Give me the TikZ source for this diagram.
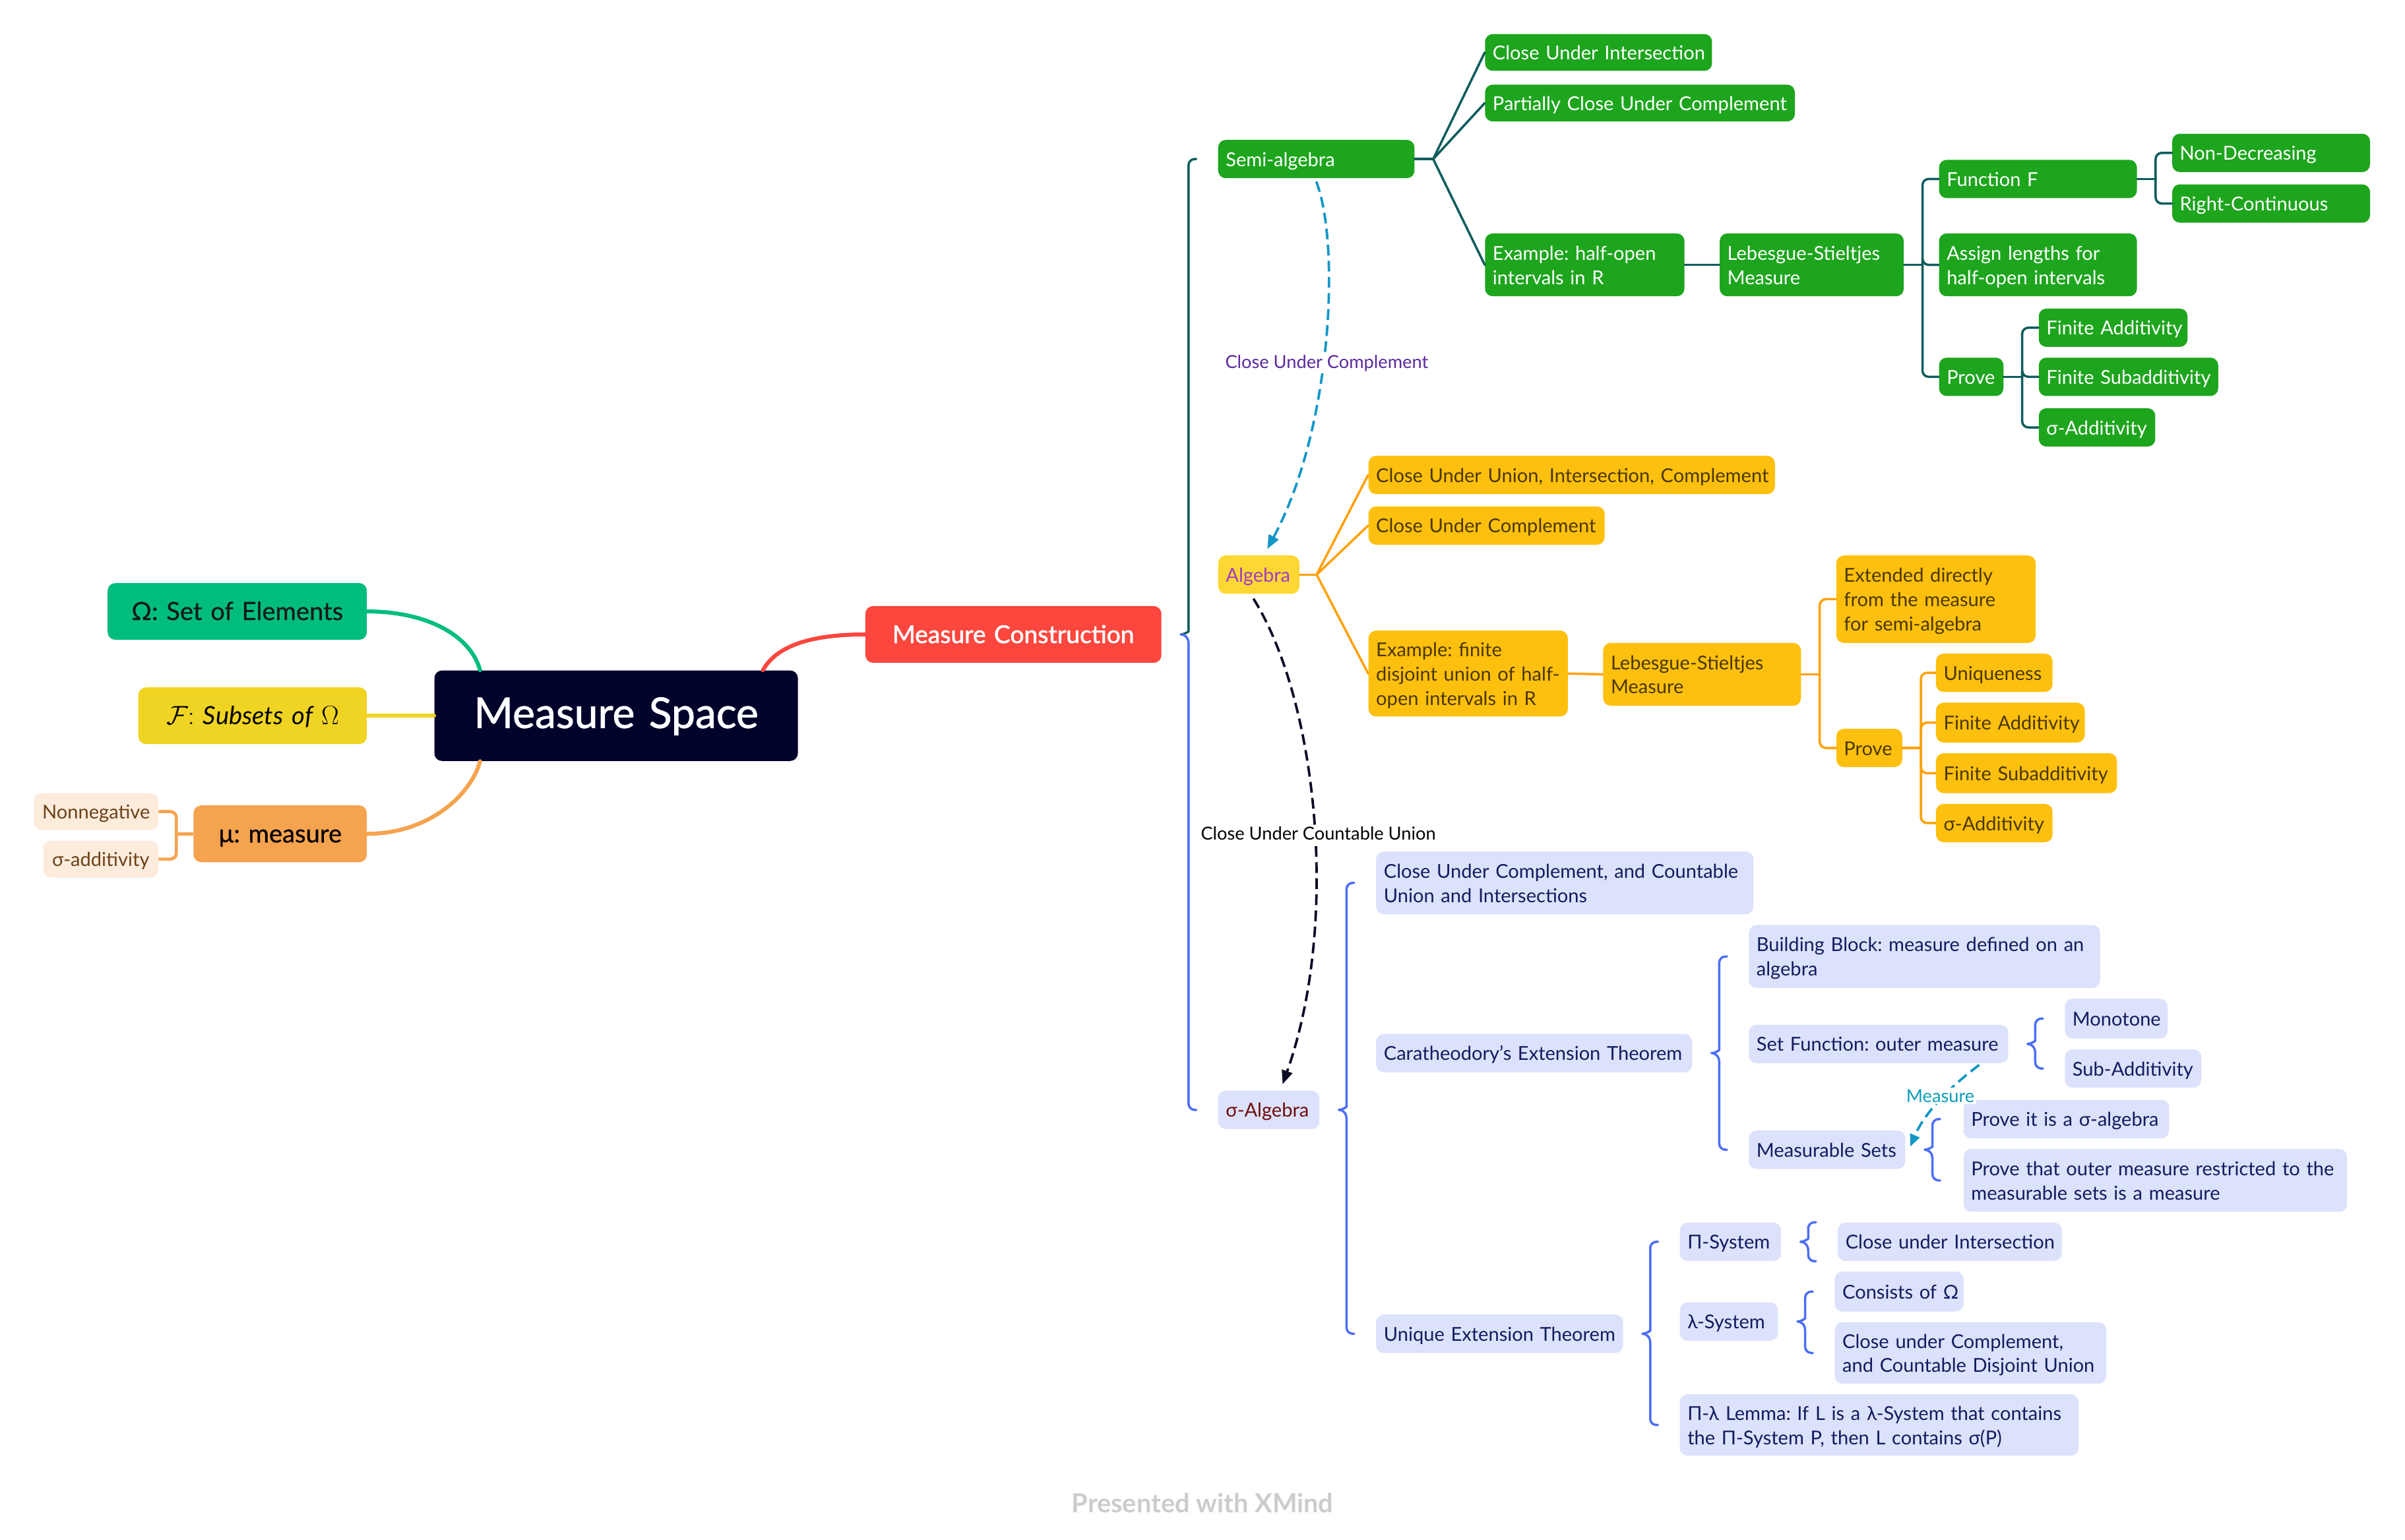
\documentclass[tikz,border=0pt]{standalone}
\usepackage{fontspec}
\setmainfont{Lato}
\usetikzlibrary{calc,arrows.meta}
\setlength{\parindent}{0pt}
\frenchspacing
\definecolor{msbg}{HTML}{02032B}
\definecolor{omg}{HTML}{00BD7E}
\definecolor{fyel}{HTML}{F0D423}
\definecolor{muor}{HTML}{F5A34F}
\definecolor{peach}{HTML}{FDEBDC}
\definecolor{brownt}{HTML}{6B4219}
\definecolor{mcred}{HTML}{FC463E}
\definecolor{grn}{HTML}{1EA51E}
\definecolor{tealln}{HTML}{0F5C5C}
\definecolor{algy}{HTML}{FDD835}
\definecolor{algt}{HTML}{A33BC2}
\definecolor{orbox}{HTML}{FEC00E}
\definecolor{ortext}{HTML}{4A3700}
\definecolor{orln}{HTML}{FFA10A}
\definecolor{lav}{HTML}{DCE2FB}
\definecolor{navyt}{HTML}{131C5E}
\definecolor{sigt}{HTML}{6E0C0C}
\definecolor{blueln}{HTML}{4C6EF5}
\definecolor{cyanar}{HTML}{1497C7}
\definecolor{purlab}{HTML}{5A2A9C}
\definecolor{darkar}{HTML}{0A0B26}
\definecolor{measlab}{HTML}{0C9DBA}
\definecolor{xmind}{HTML}{CCCCCC}
\newcommand\nfont{\fontsize{12.5}{15.8}\selectfont}
\newcommand\lfont{\fontsize{11.7}{14}\selectfont}
\newcommand\bigfont{\fontsize{16.4}{20}\selectfont\addfontfeature{FakeBold=0.6}}
\tikzset{
 bxbase/.style={rectangle, rounded corners=5pt, inner xsep=5pt, inner ysep=1pt, font=\nfont, align=left},
 grnbx/.style={bxbase, fill=grn, text=white},
 orbx/.style={bxbase, fill=orbox, text=ortext},
 algbx/.style={bxbase, fill=algy, text=algt},
 lavbx/.style={bxbase, fill=lav, text=navyt},
 sigbx/.style={bxbase, fill=lav, text=sigt},
 bigc/.style={bxbase, font=\bigfont, align=center},
 smc/.style={bxbase, align=center},
 mainln/.style={line width=2.6pt, line cap=round},
 brln/.style={line width=1.5pt, line cap=round},
 dashln/.style={line width=1.6pt, dash pattern=on 7pt off 3.5pt},
 lab/.style={fill=white, inner sep=1pt, font=\lfont},
}
% box: name, style, column type, x1, y1, x2, y2, text
\newcommand\bx[8]{%
 \pgfmathsetmacro\bxw{#6-#4}%
 \pgfmathsetmacro\bxh{#7-#5}%
 \pgfmathsetmacro\bxt{#6-#4-10}%
 \node[#2, anchor=north west, minimum width=\bxw pt, minimum height=\bxh pt, text width=\bxt pt] (#1) at (#4,#5)
   {\raisebox{-1.6pt}[\height][\depth]{\begin{tabular}{@{}#3@{}}#8\end{tabular}}};}
% brace halves: parent, child anchor, colour
\newcommand\brtop[3]{\draw[#3, brln] let \p1=(#1.east), \p2=(#2) in
 (\x1+22.5pt,\y2) [rounded corners=4pt] -- (\x1+17.5pt,\y2) -- (\x1+17.5pt,\y1+6pt) [sharp corners]
 .. controls (\x1+17.5pt,\y1+2pt) and (\x1+15pt,\y1) .. (\x1+12.5pt,\y1);}
\newcommand\brbot[3]{\draw[#3, brln] let \p1=(#1.east), \p3=(#2) in
 (\x1+12.5pt,\y1) .. controls (\x1+15pt,\y1) and (\x1+17.5pt,\y1-2pt) .. (\x1+17.5pt,\y1-6pt)
 [rounded corners=4pt] -- (\x1+17.5pt,\y3) -- (\x1+22.5pt,\y3);}
\newcommand\brc[4]{\brtop{#1}{#2}{#4}\brbot{#1}{#3}{#4}}
\begin{document}
\begin{tikzpicture}[x=1pt,y=-1pt]
\fill[white] (0,0) rectangle (1568,1004);
\useasboundingbox (0,0) rectangle (1568,1004);

% ---- central and left ----
\bx{ms}{bigc, fill=msbg, text=white, font=\fontsize{27.6}{32}\selectfont\addfontfeature{FakeBold=1.2}}{c}{283}{437}{520}{496}{Measure Space}
\bx{om}{bigc, fill=omg, text=black!90}{c}{70}{380}{239}{417}{Ω: Set of Elements}
\bx{fs}{bigc, fill=fyel, text=black}{c}{90}{448}{239}{485}{$\mathcal{F}{:}\ \mathit{Subsets\ of}\ \Omega$}
\bx{mu}{bigc, fill=muor, text=black}{c}{126}{525}{239}{562}{μ: measure}
\bx{nn}{smc, fill=peach, text=brownt}{c}{22}{517}{103}{541}{Nonnegative}
\bx{sadd}{smc, fill=peach, text=brownt}{c}{28}{548}{103}{572}{σ-additivity}
\bx{mc}{bigc, fill=mcred, text=white, font=\fontsize{16}{20}\selectfont\addfontfeature{FakeBold=1.6}}{c}{564}{395}{757}{432}{Measure Construction}

\draw[mainln, omg] (om.east) .. controls +(40,0) and +(-6,-22) .. ($(ms.north west)+(30,0)$);
\draw[mainln, fyel] (fs.east) -- (ms.west);
\draw[mainln, muor] (mu.east) .. controls +(40,0) and +(-6,22) .. ($(ms.south west)+(30,0)$);
\draw[mainln, mcred] ($(ms.north east)+(-23,0)$) .. controls +(10,-18) and +(-30,0) .. (mc.west);
\draw[line width=2pt, muor] (mu.west) -- ++(-11,0) coordinate (muj);
\draw[line width=2pt, muor, rounded corners=4pt] (muj) |- (nn.east);
\draw[line width=2pt, muor, rounded corners=4pt] (muj) |- (sadd.east);

% ---- semi-algebra ----
\bx{sa}{grnbx}{l}{794}{91}{922}{116}{Semi-algebra}
\bx{cui}{grnbx}{l}{968}{22}{1116}{46}{Close Under Intersection}
\bx{pcuc}{grnbx}{l}{968}{55}{1170}{79}{Partially Close Under Complement}
\bx{exho}{grnbx}{l}{968}{152}{1098}{193}{Example: half-open\\intervals in R}
\bx{lsa}{grnbx}{l}{1121}{152}{1241}{193}{Lebesgue-Stieltjes\\Measure}
\bx{ff}{grnbx}{l}{1264}{104}{1393}{129}{Function F}
\bx{al}{grnbx}{l}{1264}{152}{1393}{193}{Assign lengths for\\half-open intervals}
\bx{pra}{grnbx}{l}{1264}{233}{1306}{258}{Prove}
\bx{nd}{grnbx}{l}{1416}{87}{1545}{112}{Non-Decreasing}
\bx{rc}{grnbx}{l}{1416}{120}{1545}{145}{Right-Continuous}
\bx{faa}{grnbx}{l}{1329}{201}{1426}{226}{Finite Additivity}
\bx{fsaa}{grnbx}{l}{1329}{233}{1446}{258}{Finite Subadditivity}
\bx{sada}{grnbx}{l}{1329}{266}{1405}{291}{σ-Additivity}

\draw[brln, tealln] (sa.east) -- ++(12,0) coordinate (saj);
\foreach \c in {cui,pcuc,exho} \draw[brln, tealln] (saj) -- (\c.west);
\draw[brln, tealln] (exho.east) -- (lsa.west);
\draw[brln, tealln] (lsa.east) -- ++(12,0) coordinate (lsaj);
\foreach \c in {ff,al,pra} \draw[brln, tealln, rounded corners=4pt] (lsaj) |- (\c.west);
\draw[brln, tealln] (ff.east) -- ++(12,0) coordinate (ffj);
\foreach \c in {nd,rc} \draw[brln, tealln, rounded corners=4pt] (ffj) |- (\c.west);
\draw[brln, tealln] (pra.east) -- ++(12,0) coordinate (praj);
\foreach \c in {faa,fsaa,sada} \draw[brln, tealln, rounded corners=4pt] (praj) |- (\c.west);

% ---- algebra ----
\bx{alg}{algbx}{l}{794}{362}{847}{387}{Algebra}
\bx{cuuic}{orbx}{l}{892}{297}{1157}{322}{Close Under Union, Intersection, Complement}
\bx{cuc}{orbx}{l}{892}{330}{1046}{355}{Close Under Complement}
\bx{exfd}{orbx}{l}{892}{411}{1022}{467}{Example: finite\\disjoint union of half-\\open intervals in R}
\bx{lsb}{orbx}{l}{1045}{419}{1174}{460}{Lebesgue-Stieltjes\\Measure}
\bx{ext}{orbx}{l}{1197}{362}{1327}{419}{Extended directly\\from the measure\\for semi-algebra}
\bx{prb}{orbx}{l}{1197}{475}{1240}{500}{Prove}
\bx{uniq}{orbx}{l}{1262}{426}{1338}{451}{Uniqueness}
\bx{fab}{orbx}{l}{1262}{458}{1359}{484}{Finite Additivity}
\bx{fsab}{orbx}{l}{1262}{491}{1380}{517}{Finite Subadditivity}
\bx{sadb}{orbx}{l}{1262}{524}{1338}{549}{σ-Additivity}

\draw[brln, orln] (alg.east) -- ++(11,0) coordinate (algj);
\foreach \c in {cuuic,cuc,exfd} \draw[brln, orln] (algj) -- (\c.west);
\draw[brln, orln] (exfd.east) -- (lsb.west);
\draw[brln, orln] (lsb.east) -- ++(12,0) coordinate (lsbj);
\foreach \c in {ext,prb} \draw[brln, orln, rounded corners=4pt] (lsbj) |- (\c.west);
\draw[brln, orln] (prb.east) -- ++(12,0) coordinate (prbj);
\foreach \c in {uniq,fab,fsab,sadb} \draw[brln, orln, rounded corners=4pt] (prbj) |- (\c.west);

% ---- sigma-algebra ----
\bx{sig}{sigbx}{l}{794}{711}{860}{736}{σ-Algebra}
\bx{cucu}{lavbx}{l}{897}{555}{1143}{596}{Close Under Complement, and Countable\\Union and Intersections}
\bx{cet}{lavbx}{l}{897}{674}{1103}{699}{Caratheodory's Extension Theorem}
\bx{uet}{lavbx}{l}{897}{857}{1058}{882}{Unique Extension Theorem}
\bx{bb}{lavbx}{l}{1140}{603}{1369}{644}{Building Block: measure defined on an\\algebra}
\bx{sf}{lavbx}{l}{1140}{668}{1309}{693}{Set Function: outer measure}
\bx{msets}{lavbx}{l}{1140}{737}{1242}{762}{Measurable Sets}
\bx{mono}{lavbx}{l}{1346}{651}{1413}{677}{Monotone}
\bx{subadd}{lavbx}{l}{1346}{684}{1435}{709}{Sub-Additivity}
\bx{prsig}{lavbx}{l}{1280}{717}{1414}{742}{Prove it is a σ-algebra}
\bx{prout}{lavbx}{l}{1280}{749}{1530}{790}{Prove that outer measure restricted to the\\measurable sets is a measure}
\bx{pisys}{lavbx}{l}{1095}{797}{1161}{822}{Π-System}
\bx{lamsys}{lavbx}{l}{1095}{849}{1159}{874}{λ-System}
\bx{lemma}{lavbx}{l}{1095}{909}{1355}{949}{Π-λ Lemma: If L is a λ-System that contains\\the Π-System P, then L contains σ(P)}
\bx{cuint}{lavbx}{l}{1198}{797}{1344}{822}{Close under Intersection}
\bx{consom}{lavbx}{l}{1196}{829}{1280}{855}{Consists of Ω}
\bx{cucdu}{lavbx}{l}{1196}{862}{1373}{902}{Close under Complement,\\and Countable Disjoint Union}

% ---- braces ----
\brtop{mc}{sa.west}{tealln}
\brbot{mc}{sig.west}{blueln}
\brc{sig}{cucu.west}{uet.west}{blueln}
\brc{cet}{bb.west}{msets.west}{blueln}
\brc{sf}{mono.west}{subadd.west}{blueln}
\brc{msets}{prsig.west}{prout.west}{blueln}
\brc{uet}{pisys.west}{lemma.west}{blueln}
\brc{pisys}{cuint.north west}{cuint.south west}{blueln}
\brc{lamsys}{consom.west}{cucdu.west}{blueln}

% ---- relationships ----
\draw[dashln, cyanar, -{Triangle[length=9pt,width=7pt]}] ($(sa.south)+(0,2)$) .. controls +(16,42) and +(42,-78) .. ($(alg.north)+(5.5,-4)$);
\node[lab, text=purlab] (lab1) at (865,237) {Close Under Complement};
\draw[dashln, darkar, -{Triangle[length=9pt,width=7pt]}] ($(alg.south)+(-3.5,3)$) .. controls +(41,65) and +(38,-107) .. ($(sig.north)+(9,-4)$);
\node[lab, text=black] (lab2) at (859.5,543.5) {Close Under Countable Union};
\draw[dashln, cyanar, -{Triangle[length=8pt,width=6.5pt]}] ($(sf.south east)+(-19,1)$) .. controls +(-12,9) and +(11,-26) .. ($(msets.east)+(3,-2)$);
\node[lab, text=measlab] (lab3) at (1265,714.5) {Measure};

\node[font=\bfseries\fontsize{17.1}{20}\selectfont, text=xmind] (pw) at (784,980) {Presented with XMind};
\end{tikzpicture}
\end{document}
